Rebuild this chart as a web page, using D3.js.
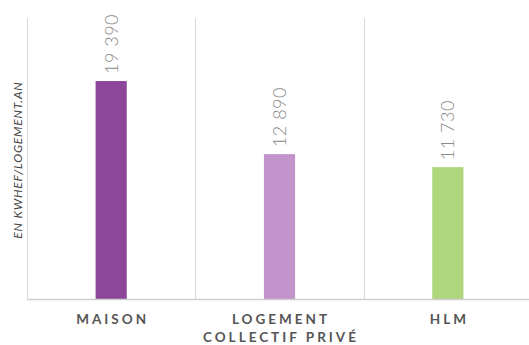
<!DOCTYPE html>
<html><head><meta charset="utf-8">
<script src="https://cdn.jsdelivr.net/npm/d3@7"></script>
<style>body{margin:0;background:#fff}svg{display:block}</style>
</head><body>
<script>
const categories = ["MAISON", "LOGEMENT COLLECTIF PRIVÉ", "HLM"];
const labelLines = [["MAISON"], ["LOGEMENT", "COLLECTIF PRIVÉ"], ["HLM"]];
const values = [19390, 12890, 11730];
const valueLabels = ["19 390", "12 890", "11 730"];
const colors = ["#8C479A", "#C393CC", "#AED67C"];
const yTitle = "EN KWHEF/LOGEMENT.AN";

const W = 529, H = 345;
const svg = d3.select("body").append("svg").attr("width", W).attr("height", H);
const x = d3.scaleBand().domain(categories).range([27, 532]).padding(0);
const y = d3.scaleLinear().domain([0, 25000]).range([299, 18]);
const bw = x.bandwidth() * 0.185;

// vertical grid lines at band boundaries
const bounds = categories.map(c => x(c)).concat([x.range()[1]]);
svg.selectAll("line.grid").data(bounds).enter().append("line")
  .attr("x1", d => Math.round(d) + 0.5).attr("x2", d => Math.round(d) + 0.5)
  .attr("y1", y(25000)).attr("y2", y(0))
  .attr("stroke", "#d9d9d9").attr("stroke-width", 1);

// bars
svg.selectAll("rect.bar").data(values).enter().append("rect")
  .attr("x", (d, i) => x(categories[i]) + x.bandwidth() / 2 - bw / 2)
  .attr("width", bw)
  .attr("y", d => y(d))
  .attr("height", d => y(0) - y(d))
  .attr("fill", (d, i) => colors[i]);

// baseline
svg.append("line").attr("x1", 27).attr("x2", W).attr("y1", y(0) + 0.5).attr("y2", y(0) + 0.5)
  .attr("stroke", "#cfcfcf").attr("stroke-width", 1.5);

// value labels
svg.selectAll("text.val").data(values).enter().append("text")
  .attr("transform", (d, i) => `translate(${x(categories[i]) + x.bandwidth() / 2},${y(d) - 7}) rotate(-90)`)
  .attr("dy", "0.36em")
  .attr("text-anchor", "start")
  .attr("font-family", "Lato, 'Open Sans', sans-serif")
  .attr("font-weight", 300)
  .attr("font-size", 18)
  .attr("fill", "#8a8a8a")
  .attr("letter-spacing", 0.5)
  .text((d, i) => valueLabels[i]);

// category labels
const cl = svg.selectAll("text.cat").data(categories).enter().append("text")
  .attr("text-anchor", "middle")
  .attr("font-family", "Lato, 'Open Sans', sans-serif")
  .attr("font-weight", 700)
  .attr("font-size", 13.5)
  .attr("letter-spacing", 3)
  .attr("fill", "#555");
cl.each(function (c, i) {
  const t = d3.select(this);
  labelLines[i].forEach((ln, j) => {
    t.append("tspan").attr("x", x(c) + x.bandwidth() / 2 + 1.5).attr("y", 324 + j * 18).text(ln);
  });
});

// y axis title
svg.append("text")
  .attr("transform", "translate(21.5,160) rotate(-90)")
  .attr("text-anchor", "middle")
  .attr("font-family", "Lato, 'Open Sans', sans-serif")
  .attr("font-style", "italic")
  .attr("font-size", 12)
  .attr("letter-spacing", 0.8)
  .attr("fill", "#444")
  .text(yTitle);
</script>
</body></html>
